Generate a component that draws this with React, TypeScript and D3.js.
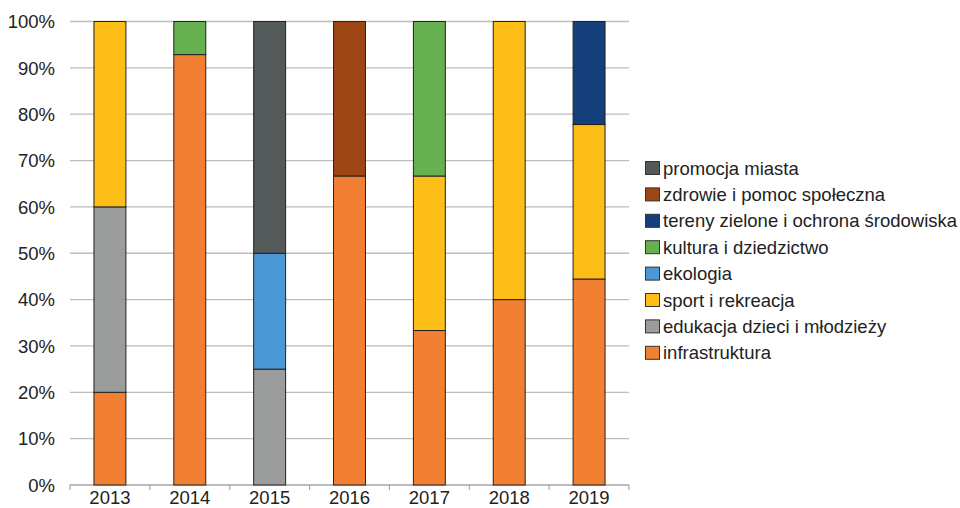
import React from "react";
import * as d3 from "d3";

const years = ["2013", "2014", "2015", "2016", "2017", "2018", "2019"];
const seriesNames = [
  "infrastruktura",
  "edukacja dzieci i młodzieży",
  "sport i rekreacja",
  "ekologia",
  "kultura i dziedzictwo",
  "tereny zielone i ochrona środowiska",
  "zdrowie i pomoc społeczna",
  "promocja miasta",
];
const seriesColors = ["#F28033", "#9B9D9D", "#FCBE17", "#4C98D6", "#66B04F", "#143F7A", "#9D4613", "#54595A"];
// values in percent per year, order matches seriesNames
const infrastruktura = [20, 92.86, 0, 66.67, 33.33, 40, 44.44];
const edukacja = [40, 0, 25, 0, 0, 0, 0];
const sport = [40, 0, 0, 0, 33.33, 60, 33.33];
const ekologia = [0, 0, 25, 0, 0, 0, 0];
const kultura = [0, 7.14, 0, 0, 33.34, 0, 0];
const tereny = [0, 0, 0, 0, 0, 0, 22.23];
const zdrowie = [0, 0, 0, 33.33, 0, 0, 0];
const promocja = [0, 0, 50, 0, 0, 0, 0];
const yTicks = [0, 10, 20, 30, 40, 50, 60, 70, 80, 90, 100];

const seriesValues = [infrastruktura, edukacja, sport, ekologia, kultura, tereny, zdrowie, promocja];

export default function App() {
  const W = 960, H = 508;
  const left = 70, right = 629, top = 21.5, bottom = 485;
  const x = d3.scaleBand().domain(years).range([left, right]).paddingInner(0.6).paddingOuter(0.3);
  const xb = d3.scaleBand().domain(years).range([left, right]);
  const y = d3.scaleLinear().domain([0, 100]).range([bottom, top]);
  const table = years.map((yr, i) => {
    const o: any = { year: yr };
    seriesNames.forEach((n, s) => (o[n] = seriesValues[s][i]));
    return o;
  });
  const stacked = d3.stack().keys(seriesNames)(table as any);
  const font = "'Liberation Sans', Arial, sans-serif";
  const legendOrder = [...seriesNames.keys()].reverse();
  const fs = 18.5;
  return (
    <svg width={W} height={H} style={{ position: "absolute", left: 0, top: 0 }} fontFamily={font}>
      <rect width={W} height={H} fill="#fff" />
      {yTicks.map((t) => (
        <g key={t}>
          <line x1={left} x2={right} y1={y(t)} y2={y(t)} stroke={t === 0 ? "#a6a6a6" : "#bdbdbd"} strokeWidth={1.3} />
          <text x={55} y={y(t)} dy="0.36em" textAnchor="end" fontSize={fs} fill="#222">
            {t}%
          </text>
        </g>
      ))}
      {years.map((yr) => (
        <line key={"tk" + yr} x1={xb(yr)!} x2={xb(yr)!} y1={bottom} y2={bottom + 5} stroke="#a6a6a6" strokeWidth={1.2} />
      ))}
      <line x1={right} x2={right} y1={bottom} y2={bottom + 5} stroke="#a6a6a6" strokeWidth={1.2} />
      {stacked.map((layer, s) =>
        layer.map((d, i) =>
          d[1] - d[0] > 0 ? (
            <rect
              key={s + "-" + i}
              x={x(years[i])!}
              width={x.bandwidth()}
              y={y(d[1])}
              height={y(d[0]) - y(d[1])}
              fill={seriesColors[s]}
              stroke="#222"
              strokeWidth={1}
            />
          ) : null
        )
      )}
      {years.map((yr) => (
        <text key={"xl" + yr} x={xb(yr)! + xb.bandwidth() / 2} y={504} textAnchor="middle" fontSize={fs} fill="#222">
          {yr}
        </text>
      ))}
      {legendOrder.map((s, k) => {
        const cy = 168 + k * 26.4;
        return (
          <g key={"lg" + s}>
            <rect x={645.5} y={cy - 6.5} width={14} height={13} fill={seriesColors[s]} stroke="#333" strokeWidth={1} />
            <text x={663} y={cy} dy="0.36em" fontSize={fs} fill="#222">
              {seriesNames[s]}
            </text>
          </g>
        );
      })}
    </svg>
  );
}
